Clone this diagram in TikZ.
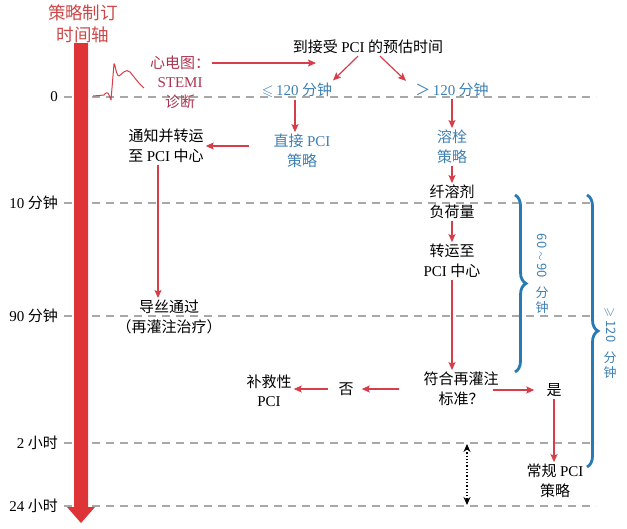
\documentclass[tikz,border=0pt]{standalone}
\usepackage{fontspec}
\setmainfont{Liberation Serif}
\newfontfamily\zh{Noto Sans CJK SC}
\usepackage{amssymb}
\usepackage{tikz}
\usetikzlibrary{arrows.meta,decorations.pathreplacing}
\definecolor{ared}{RGB}{214,62,74}
\definecolor{barred}{RGB}{222,52,56}
\definecolor{tred}{RGB}{205,72,72}
\definecolor{ecgred}{RGB}{172,52,78}
\definecolor{lblue}{RGB}{62,128,178}
\definecolor{bblue}{RGB}{38,122,182}
\definecolor{dgray}{RGB}{168,168,168}
\newcommand{\ltn}[1]{{\rmfamily #1}}

\begin{document}
\begin{tikzpicture}[
  x=1pt,y=-1pt,
  txt/.style={align=center,inner sep=2pt,font=\zh\fontsize{15}{19.5}\selectfont},
  blu/.style={txt,text=lblue},
  rowlab/.style={txt,anchor=east,inner sep=0pt},
  vlab/.style={txt,text=lblue,font=\zh\fontsize{13}{15}\selectfont},
  ar/.style={-{Stealth[length=8pt,width=7pt,inset=1.5pt]},line width=1.2pt,draw=ared},
  grid/.style={draw=dgray,line width=1.2pt,dash pattern=on 8pt off 6pt},
  brc/.style={draw=bblue,line width=2.8pt,decorate,decoration={brace,amplitude=11pt}}
]
\useasboundingbox (0,0) rectangle (627,528);
\foreach \yy/\lab [count=\i] in {97/\ltn{0},203/\ltn{10} 分钟,316/\ltn{90} 分钟,443/\ltn{2} 小时,506/\ltn{24} 小时}{
  \node[rowlab] (row\i) at (58,\yy) {\lab};
  \draw[grid] (64,\yy) -- (596,\yy);
}
\fill[barred] (74,43) -- (88,43) -- (88,507) -- (95,507) -- (81,523) -- (67,507) -- (74,507) -- cycle;
\node[txt,text=tred,font=\zh\fontsize{17.5}{22}\selectfont] (title) at (83,24) {策略制订\\时间轴};
\draw[ared,line width=1pt,line join=round] (93,96) -- (104,95) .. controls (106,92) and (108,92) .. (109,95)
   -- (111,100) -- (114,64) .. controls (115,62) and (116,76) .. (119,76)
   .. controls (122,74) and (126,68) .. (130,72) .. controls (135,78) and (140,85) .. (144,88);
\node[txt,text=ecgred] (ecg) at (180,82) {心电图：\\\ltn{STEMI}\\诊断};
\node[txt] (est) at (368,47) {到接受 \ltn{PCI} 的预估时间};
\coordinate (estin) at (316,63);
\node[blu] (le) at (297,90) {$\leqslant$\,\ltn{120} 分钟};
\node[blu] (gt) at (452,90) {＞\,\ltn{120} 分钟};
\node[blu] (dpci) at (302,151) {直接 \ltn{PCI}\\策略};
\node[txt] (notify) at (166,146) {通知并转运\\至 \ltn{PCI} 中心};
\node[txt] (guide) at (169,317) {导丝通过\\（再灌注治疗）};
\node[blu] (lysis) at (452,147) {溶栓\\策略};
\node[txt] (load) at (452,202) {纤溶剂\\负荷量};
\node[txt] (trans) at (452,261) {转运至\\\ltn{PCI} 中心};
\node[txt] (crit) at (461,389) {符合再灌注\\标准？};
\node[txt] (no) at (346,389) {否};
\node[txt] (salv) at (269,391) {补救性\\\ltn{PCI}};
\node[txt] (yes) at (554,390) {是};
\node[txt] (reg) at (555,481) {常规 \ltn{PCI}\\策略};
\draw[ar] (ecg.east |- estin) -- (estin);
\draw[ar] ([xshift=-10pt]est.south) -- ([xshift=36pt]le.north);
\draw[ar] ([xshift=12pt]est.south) -- ([xshift=-46pt]gt.north);
\draw[ar] ([xshift=-2pt]le.south) -- ([xshift=-2pt]le.south |- dpci.north);
\draw[ar,shorten <=22pt] (dpci.west |- notify) -- (notify.east);
\draw[ar] ([xshift=-8pt]notify.south) -- ([xshift=-8pt]notify.south |- guide.north);
\draw[ar] (gt) -- (lysis);
\draw[ar] (lysis) -- (load);
\draw[ar] (load) -- (trans);
\draw[ar] (trans.south) -- (trans.south |- crit.north);
\draw[ar,shorten <=22pt,shorten >=6pt] (crit.west) -- (no);
\draw[ar,shorten <=8pt] (no) -- (no -| salv.east);
\draw[ar,shorten >=10pt] ([xshift=-8pt]crit.east |- yes) -- (yes);
\draw[ar] (yes) -- (yes |- reg.north);
\coordinate (d1) at (467,444);
\coordinate (d2) at (467,505);
\draw[{Stealth[length=8pt,width=7pt]}-{Stealth[length=8pt,width=7pt]},line width=1.3pt,dotted] (d1) -- (d2);
\coordinate (b1a) at (515,195);
\coordinate (b1b) at (515,372);
\coordinate (b2a) at (587,195);
\coordinate (b2b) at (587,467);
\draw[brc] (b1a) -- (b1b);
\draw[brc] (b2a) -- (b2b);
\node[vlab,rotate=-90] (r1) at (542,256) {60 $\sim$ 90};
\node[vlab] (r1u) at (542,300) {分\\钟};
\node[vlab,rotate=-90] (r2) at (610,325) {$\geqslant$ 120};
\node[vlab] (r2u) at (610,365) {分\\钟};
\end{tikzpicture}
\end{document}
